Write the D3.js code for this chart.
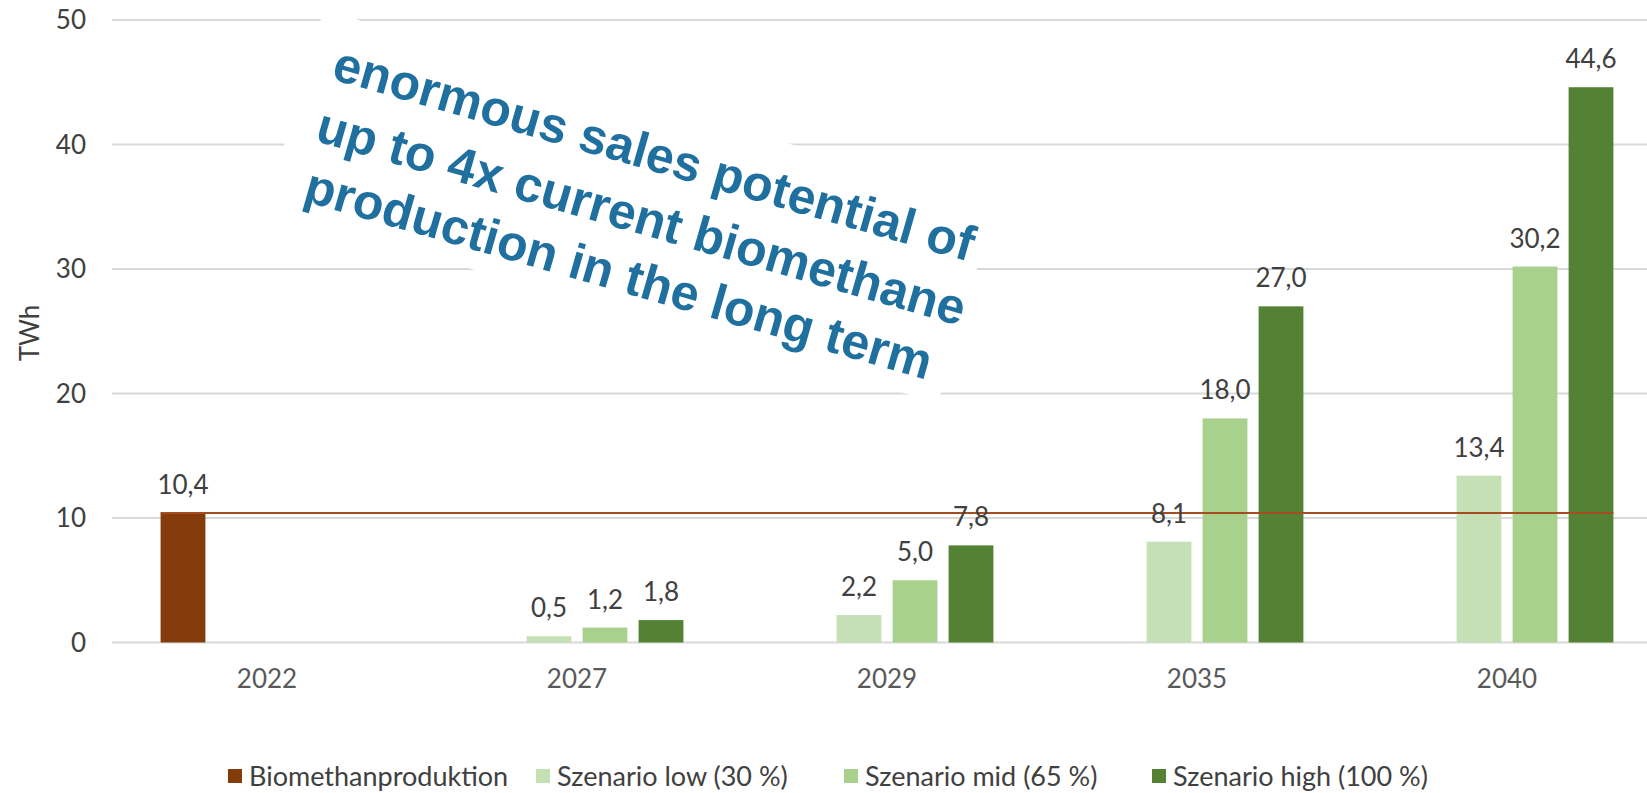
<!DOCTYPE html>
<html>
<head>
<meta charset="utf-8">
<script src="https://cdn.jsdelivr.net/npm/d3@7"></script>
<style>
  body { margin: 0; background: #fff; }
  svg { display: block; font-family: Lato, "Open Sans", sans-serif; }
</style>
</head>
<body>
<div id="chart"></div>
<script>
// chart data
var years = ["2022", "2027", "2029", "2035", "2040"];
var seriesNames = ["Biomethanproduktion", "Szenario low (30 %)", "Szenario mid (65 %)", "Szenario high (100 %)"];
var biomethan = [10.4, null, null, null, null];
var low = [null, 0.5, 2.2, 8.1, 13.4];
var mid = [null, 1.2, 5.0, 18.0, 30.2];
var high = [null, 1.8, 7.8, 27.0, 44.6];
var yTicks = [0, 10, 20, 30, 40, 50];
var currentLevel = 10.4; // reference line = today's production
var annotationLines = ["enormous sales potential of", "up to 4x current biomethane", "production in the long term"];

var colors = ["#843c0c", "#c5e0b4", "#a9d18e", "#548235"];

////////////////////////////////////////////////////////////
//////////////////////// Set-Up ////////////////////////////
////////////////////////////////////////////////////////////
var W = 1647, H = 793;
var plot = {left: 112, right: 1662, top: 20, bottom: 642.5};

var values = [biomethan, low, mid, high];
var rows = [];
years.forEach(function(yr, i) {
  values.forEach(function(s, k) {
    if (s[i] != null) rows.push({year: yr, series: seriesNames[k], k: k, value: s[i]});
  });
});

var x0 = d3.scaleBand()
  .domain(years)
  .range([plot.left, plot.right])
  .paddingInner(0.2774)
  .paddingOuter(0.1387);

var x1 = d3.scaleBand()
  .domain(seriesNames)
  .range([0, x0.bandwidth()])
  .paddingInner(0.2)
  .paddingOuter(0.1);

var y = d3.scaleLinear()
  .domain([0, 50])
  .range([plot.bottom, plot.top]);

var color = d3.scaleOrdinal().domain(seriesNames).range(colors);

var fmt = d3.formatLocale({decimal: ",", thousands: ".", grouping: [3], currency: ["", " €"]}).format(".1f");

var svg = d3.select("#chart").append("svg")
  .attr("width", W)
  .attr("height", H);

svg.append("rect").attr("width", W).attr("height", H).attr("fill", "#fff");

////////////////////////////////////////////////////////////
///////////////////// Grid + axes //////////////////////////
////////////////////////////////////////////////////////////
svg.append("g").selectAll("line")
  .data(yTicks)
  .enter().append("line")
  .attr("x1", plot.left)
  .attr("x2", plot.right)
  .attr("y1", function(d) { return y(d); })
  .attr("y2", function(d) { return y(d); })
  .attr("stroke", "#d9d9d9")
  .attr("stroke-width", 2);

svg.append("g").selectAll("text")
  .data(yTicks)
  .enter().append("text")
  .attr("x", 86)
  .attr("y", function(d) { return y(d); })
  .attr("dy", "0.36em")
  .attr("text-anchor", "end")
  .attr("font-size", 26)
  .attr("fill", "#404040")
  .text(function(d) { return d; });

svg.append("g").selectAll("text")
  .data(years)
  .enter().append("text")
  .attr("x", function(d) { return x0(d) + x0.bandwidth() / 2; })
  .attr("y", 688)
  .attr("text-anchor", "middle")
  .attr("font-size", 26)
  .attr("fill", "#595959")
  .text(function(d) { return d; });

svg.append("text")
  .attr("transform", "translate(39,333) rotate(-90)")
  .attr("text-anchor", "middle")
  .attr("font-size", 26)
  .attr("fill", "#404040")
  .text("TWh");

////////////////////////////////////////////////////////////
////////////////////// Annotation //////////////////////////
////////////////////////////////////////////////////////////
var note = svg.append("g")
  .attr("transform", "translate(323,10) rotate(16)");

note.append("rect")
  .attr("width", 700)
  .attr("height", 208)
  .attr("rx", 14)
  .attr("fill", "#fff");

var noteX = [26, 27, 32], noteY = [64, 128, 189];
note.selectAll("text")
  .data(annotationLines)
  .enter().append("text")
  .attr("x", function(d, i) { return noteX[i]; })
  .attr("y", function(d, i) { return noteY[i]; })
  .attr("font-family", "'Liberation Sans', Arial, sans-serif")
  .attr("font-weight", "bold")
  .attr("font-size", 50)
  .attr("fill", "#1f6f9f")
  .text(function(d) { return d; });

////////////////////////////////////////////////////////////
//////////////////////// Bars //////////////////////////////
////////////////////////////////////////////////////////////
svg.append("g").selectAll("rect")
  .data(rows)
  .enter().append("rect")
  .attr("x", function(d) { return x0(d.year) + x1(d.series); })
  .attr("width", x1.bandwidth())
  .attr("y", function(d) { return y(d.value); })
  .attr("height", function(d) { return y(0) - y(d.value); })
  .attr("fill", function(d) { return color(d.series); });

// line at today's production level, across all groups
svg.append("line")
  .attr("x1", x0(years[0]) + x1(seriesNames[0]))
  .attr("x2", x0(years[years.length - 1]) + x1(seriesNames[3]) + x1.bandwidth())
  .attr("y1", y(currentLevel))
  .attr("y2", y(currentLevel))
  .attr("stroke", "#a64d1f")
  .attr("stroke-width", 2);

svg.append("g").selectAll("text")
  .data(rows)
  .enter().append("text")
  .attr("x", function(d) { return x0(d.year) + x1(d.series) + x1.bandwidth() / 2; })
  .attr("y", function(d) { return y(d.value) - 19; })
  .attr("text-anchor", "middle")
  .attr("font-size", 26)
  .attr("fill", "#404040")
  .text(function(d) { return fmt(d.value); });

////////////////////////////////////////////////////////////
/////////////////////// Legend /////////////////////////////
////////////////////////////////////////////////////////////
var lx = d3.scalePoint().domain(seriesNames).range([228, 228 + 3 * 308]);

var legend = svg.append("g").selectAll("g")
  .data(seriesNames)
  .enter().append("g")
  .attr("transform", function(d) { return "translate(" + lx(d) + ",776)"; });

legend.append("rect")
  .attr("y", -7)
  .attr("width", 14)
  .attr("height", 14)
  .attr("fill", function(d) { return color(d); });

legend.append("text")
  .attr("x", 21)
  .attr("dy", "0.36em")
  .attr("font-size", 27)
  .attr("fill", "#404040")
  .text(function(d) { return d; });
</script>
</body>
</html>
